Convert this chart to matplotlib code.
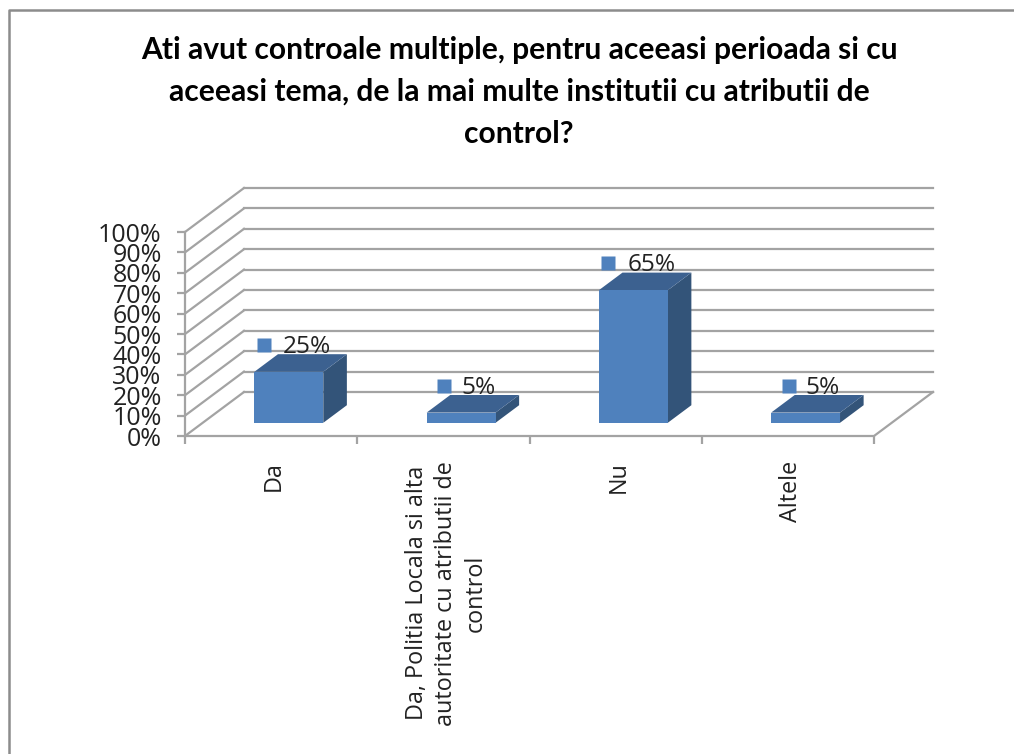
import matplotlib
matplotlib.use("Agg")
import matplotlib.pyplot as plt
from matplotlib.lines import Line2D
from matplotlib.patches import Polygon
from matplotlib.transforms import offset_copy

categories = ["Da", "Da, Politia Locala si alta\nautoritate cu atributii de\ncontrol", "Nu", "Altele"]
values = [25, 5, 65, 5]
value_labels = ["25%", "5%", "65%", "5%"]
y_ticks = [0, 10, 20, 30, 40, 50, 60, 70, 80, 90, 100]
y_tick_labels = ["0%", "10%", "20%", "30%", "40%", "50%", "60%", "70%", "80%", "90%", "100%"]
title = ("Ati avut controale multiple, pentru aceeasi perioada si cu\n"
         "aceeasi tema, de la mai multe institutii cu atributii de\n"
         "control?")

W, H = 1014, 754
FONT = "Open Sans"
GRID = "#a3a3a3"
FRONT = "#4f81bd"
TOP = "#3c6190"
SIDE = "#335479"

# plot box in pixels, front of the 3d floor
X0, X1, Y0, Y100 = 185, 874, 436, 232
DEPTH_X = 59 / ((X1 - X0) / 4)     # whole depth in category units
DEPTH_Y = 44 / ((Y0 - Y100) / 100)  # whole depth in percent units

fig = plt.figure(figsize=(W / 100, H / 100), dpi=100)
# chart frame, only the left and top edges are inside the crop
fig.add_artist(Line2D([8.7 / W, 8.7 / W, 1], [0, 1 - 10.2 / H, 1 - 10.2 / H], color="#8c8c8c", lw=1.8))

ax = fig.add_axes([X0 / W, 1 - Y0 / H, (X1 - X0) / W, (Y0 - Y100) / H])
ax.set_xlim(0, 4)
ax.set_ylim(0, 100)
ax.patch.set_visible(False)
for s in ["top", "right", "bottom"]:
  ax.spines[s].set_visible(False)
ax.spines["left"].set_color(GRID)
ax.spines["left"].set_linewidth(1.6)

def proj(x, y, d):
  # d is the depth, 0 at the front and 1 at the back wall
  return x + d * DEPTH_X, y + d * DEPTH_Y

# walls
for t in y_ticks:
  ax.plot([0, DEPTH_X], [t, t + DEPTH_Y], color=GRID, lw=1.6, clip_on=False, zorder=1)
  ax.plot([DEPTH_X, 4 + DEPTH_X], [t + DEPTH_Y, t + DEPTH_Y], color=GRID, lw=1.6, clip_on=False, zorder=1)
ax.plot([0, 4, 4 + DEPTH_X], [0, 0, DEPTH_Y], color=GRID, lw=1.6, clip_on=False, zorder=1)

# bars
BAR_W = 0.4
D0, D1 = 0.3, 0.7
for i, v in enumerate(values):
  left = i + 0.5 - BAR_W / 2
  right = left + BAR_W
  front = [proj(left, 0, D0), proj(right, 0, D0), proj(right, v, D0), proj(left, v, D0)]
  side = [proj(right, 0, D0), proj(right, 0, D1), proj(right, v, D1), proj(right, v, D0)]
  top = [proj(left, v, D0), proj(right, v, D0), proj(right, v, D1), proj(left, v, D1)]
  ax.add_patch(Polygon(side, fc=SIDE, ec="none", clip_on=False, zorder=3))
  ax.add_patch(Polygon(top, fc=TOP, ec="none", clip_on=False, zorder=3))
  ax.add_patch(Polygon(front, fc=FRONT, ec="none", clip_on=False, zorder=3))

  # data label, legend key then text
  bx, by = proj(i + 0.5, v, D0)
  group = 75 if len(value_labels[i]) == 3 else 59
  key_tr = offset_copy(ax.transData, fig=fig, x=5 - group / 2 + 7.5, y=27, units="dots")
  ax.plot([bx], [by], marker="s", ms=10.6, mfc=FRONT, mec="none", transform=key_tr, clip_on=False, zorder=4)
  ax.annotate(value_labels[i], (bx, by), xytext=((5 + group / 2) * 0.72, 25 * 0.72), textcoords="offset points",
              ha="right", va="center", color="#222222", fontsize=17.6, family=FONT, zorder=5, annotation_clip=False)

# ticks
ax.set_yticks(y_ticks)
ax.set_yticklabels(y_tick_labels, fontsize=18, family=FONT, color="#222222")
ax.tick_params(axis="y", length=5.8, width=1.6, color=GRID, pad=11)
ax.set_xticks([0, 1, 2, 3, 4])
ax.set_xticklabels([])
ax.tick_params(axis="x", which="major", length=5.8, width=1.6, color=GRID, bottom=True)
ax.set_xticks([0.5, 1.5, 2.5, 3.5], minor=True)
ax.set_xticklabels(categories, minor=True, rotation=90, fontsize=16.8, family=FONT, color="#222222",
                   ha="center", va="top", multialignment="center", linespacing=1.3)
ax.tick_params(axis="x", which="minor", length=0, pad=18)
for lab in ax.get_xticklabels(minor=True):
  lab.set_transform(offset_copy(lab.get_transform(), fig=fig, x=3, y=0, units="dots"))

fig.text(519 / W, 1 - 92 / H, title, ha="center", va="center", fontsize=21.6, fontweight="bold",
         family="Lato", color="black", linespacing=1.62)

fig.savefig("out.png", dpi=100)
